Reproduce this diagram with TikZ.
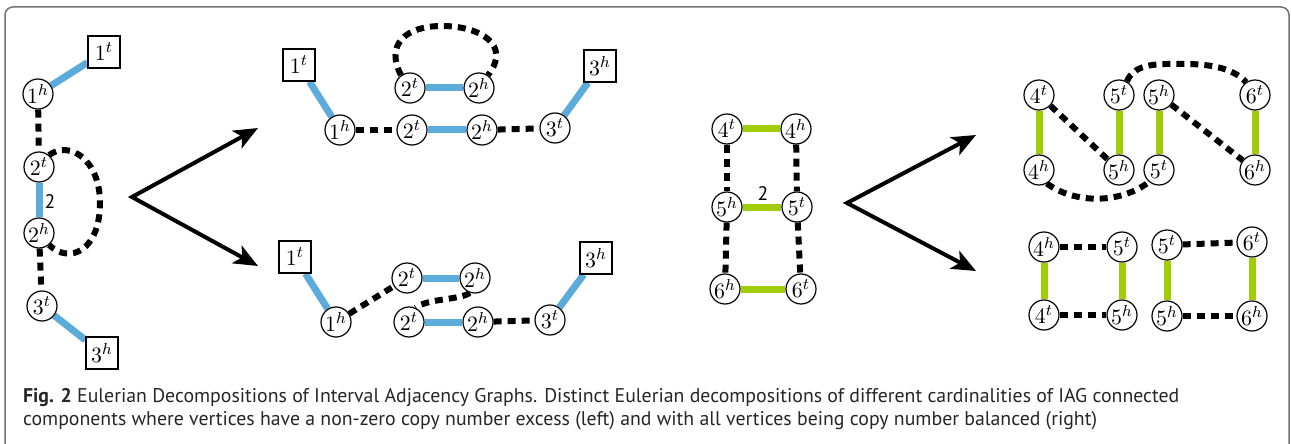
\documentclass[tikz,border=0pt]{standalone}
\usepackage{fontspec}
\newfontfamily\capfont{PT Sans}
\usetikzlibrary{arrows.meta,backgrounds}

\definecolor{iagblue}{RGB}{91,172,218}
\definecolor{iaggreen}{RGB}{160,204,8}

\tikzset{
	vtx/.style={circle, draw, fill=white, line width=0.6pt, minimum size=15pt, inner sep=0pt, font=\fontsize{11}{13}\selectfont},
	endbox/.style={rectangle, draw, fill=white, line width=0.6pt, minimum size=16pt, inner sep=0pt, font=\fontsize{11}{13}\selectfont},
	blueedge/.style={iagblue, line width=3.5pt},
	greenedge/.style={iaggreen, line width=3.5pt},
	adjedge/.style={black, line width=3pt, dash pattern=on 4pt off 3pt},
	splitarrow/.style={line width=2pt, {Stealth[length=12pt,width=10pt,inset=3pt]}-{Stealth[length=12pt,width=10pt,inset=3pt]}},
	multlabel/.style={font=\capfont\fontsize{9.8}{11}\selectfont, inner sep=0pt},
	captext/.style={anchor=base west, inner sep=0pt, text=black!85, font=\capfont\fontsize{9.9}{11}\selectfont}
}

\begin{document}
\begin{tikzpicture}[x=0.5pt,y=0.5pt]
	\useasboundingbox (0,0) rectangle (1291,-444);

	% component with copy number excess
	\node[endbox] (l1t) at (104,-52) {$1^t$};
	\node[vtx] (l1h) at (38,-94) {$1^h$};
	\node[vtx] (l2t) at (39,-167) {$2^t$};
	\node[vtx] (l2h) at (39,-233) {$2^h$};
	\node[vtx] (l3t) at (42,-306) {$3^t$};
	\node[endbox] (l3h) at (102,-353) {$3^h$};
	\node[multlabel] (l2mult) at (50,-202) {2};

	\coordinate (lsplit) at (132,-197);
	\coordinate (lup) at (258,-128);
	\coordinate (ldown) at (258,-266);

	% first decomposition
	\node[endbox] (a1t) at (299,-65) {$1^t$};
	\node[vtx] (a1h) at (340,-130) {$1^h$};
	\node[vtx] (a2t) at (412,-130) {$2^t$};
	\node[vtx] (a2h) at (482,-130) {$2^h$};
	\node[vtx] (a3t) at (555,-128) {$3^t$};
	\node[endbox] (a3h) at (600,-66) {$3^h$};
	\node[vtx] (a2tx) at (410,-88) {$2^t$};
	\node[vtx] (a2hx) at (479,-88) {$2^h$};

	% second decomposition
	\node[endbox] (b1t) at (295,-257) {$1^t$};
	\node[vtx] (b1h) at (336,-322) {$1^h$};
	\node[vtx] (b2tx) at (407,-278) {$2^t$};
	\node[vtx] (b2hx) at (475,-278) {$2^h$};
	\node[vtx] (b2t) at (409,-322) {$2^t$};
	\node[vtx] (b2h) at (478,-322) {$2^h$};
	\node[vtx] (b3t) at (550,-320) {$3^t$};
	\node[endbox] (b3h) at (596,-258) {$3^h$};

	% balanced component
	\node[vtx] (c4t) at (727,-129) {$4^t$};
	\node[vtx] (c4h) at (796,-129) {$4^h$};
	\node[vtx] (c5h) at (727,-207) {$5^h$};
	\node[vtx] (c5t) at (797,-207) {$5^t$};
	\node[vtx] (c6h) at (725,-289) {$6^h$};
	\node[vtx] (c6t) at (801,-289) {$6^t$};
	\node[multlabel] (c5mult) at (763,-194) {2};

	\coordinate (rsplit) at (847,-203);
	\coordinate (rup) at (976,-135);
	\coordinate (rdown) at (976,-271);

	% one cycle
	\node[vtx] (d4t) at (1039,-95) {$4^t$};
	\node[vtx] (d4h) at (1039,-170) {$4^h$};
	\node[vtx] (d5t) at (1119,-95) {$5^t$};
	\node[vtx] (d5h) at (1119,-170) {$5^h$};
	\node[vtx] (d5hx) at (1159,-95) {$5^h$};
	\node[vtx] (d5tx) at (1159,-170) {$5^t$};
	\node[vtx] (d6t) at (1255,-95) {$6^t$};
	\node[vtx] (d6h) at (1255,-170) {$6^h$};

	% two cycles
	\node[vtx] (e4h) at (1044,-247) {$4^h$};
	\node[vtx] (e4t) at (1044,-315) {$4^t$};
	\node[vtx] (e5t) at (1122,-247) {$5^t$};
	\node[vtx] (e5h) at (1122,-315) {$5^h$};
	\node[vtx] (e5tx) at (1167,-245) {$5^t$};
	\node[vtx] (e5hx) at (1167,-316) {$5^h$};
	\node[vtx] (e6t) at (1252,-242) {$6^t$};
	\node[vtx] (e6h) at (1252,-316) {$6^h$};

	% caption
	\node[captext] (capa) at (22.7,-402) {\textbf{Fig. 2} Eulerian Decompositions of Interval Adjacency Graphs. Distinct Eulerian decompositions of different cardinalities of IAG connected};
	\node[captext] (capb) at (22.7,-425) {components where vertices have a non-zero copy number excess (left) and with all vertices being copy number balanced (right)};

	\begin{scope}[on background layer]
		\draw[black!55, line width=0.75pt, rounded corners=4pt] (5,-460) |- (1289,-7) -- (1289,-460);

		\draw[blueedge] (l1t) -- (l1h);
		\draw[blueedge] (l2t) -- (l2h);
		\draw[blueedge] (l3t) -- (l3h);
		\draw[adjedge] (l1h) -- (l2t);
		\draw[adjedge] (l2h) -- (l3t);
		\draw[adjedge] (l2t.50) .. controls (70,-140) and (100,-160) .. (100,-203) .. controls (100,-250) and (70,-265) .. (l2h.-50);
		\draw[splitarrow] (lup) -- (lsplit) -- (ldown);

		\draw[blueedge] (a1t) -- (a1h);
		\draw[blueedge] (a2t) -- (a2h);
		\draw[blueedge] (a3t) -- (a3h);
		\draw[blueedge] (a2tx) -- (a2hx);
		\draw[adjedge] (a1h) -- (a2t);
		\draw[adjedge] (a2h) -- (a3t);
		\draw[adjedge] (a2tx.125) .. controls (385,-45) and (405,-26) .. (442,-26) .. controls (480,-26) and (512,-45) .. (a2hx.55);

		\draw[blueedge] (b1t) -- (b1h);
		\draw[blueedge] (b2t) -- (b2h);
		\draw[blueedge] (b2tx) -- (b2hx);
		\draw[blueedge] (b3t) -- (b3h);
		\draw[adjedge] (b1h) -- (b2tx);
		\draw[adjedge] (b2hx.-110) .. controls (462,-300) and (428,-298) .. (b2t.65);
		\draw[adjedge] (b2h) -- (b3t);

		\draw[greenedge] (c4t) -- (c4h);
		\draw[greenedge] (c5h) -- (c5t);
		\draw[greenedge] (c6h) -- (c6t);
		\draw[adjedge] (c4t) -- (c5h);
		\draw[adjedge] (c4h) -- (c5t);
		\draw[adjedge] (c5h) -- (c6h);
		\draw[adjedge] (c5t) -- (c6t);
		\draw[splitarrow] (rup) -- (rsplit) -- (rdown);

		\draw[greenedge] (d4t) -- (d4h);
		\draw[greenedge] (d5t) -- (d5h);
		\draw[greenedge] (d5hx) -- (d5tx);
		\draw[greenedge] (d6t) -- (d6h);
		\draw[adjedge] (d4t) -- (d5h);
		\draw[adjedge] (d5hx) -- (d6h);
		\draw[adjedge] (d4h.-60) .. controls (1075,-204) and (1120,-204) .. (d5tx.-130);
		\draw[adjedge] (d5t.60) .. controls (1135,-62) and (1160,-64) .. (1185,-64) .. controls (1215,-64) and (1235,-70) .. (d6t.125);

		\draw[greenedge] (e4h) -- (e4t);
		\draw[greenedge] (e5t) -- (e5h);
		\draw[greenedge] (e5tx) -- (e5hx);
		\draw[greenedge] (e6t) -- (e6h);
		\draw[adjedge] (e4h) -- (e5t);
		\draw[adjedge] (e4t) -- (e5h);
		\draw[adjedge] (e5tx) -- (e6t);
		\draw[adjedge] (e5hx) -- (e6h);
	\end{scope}
\end{tikzpicture}
\end{document}
